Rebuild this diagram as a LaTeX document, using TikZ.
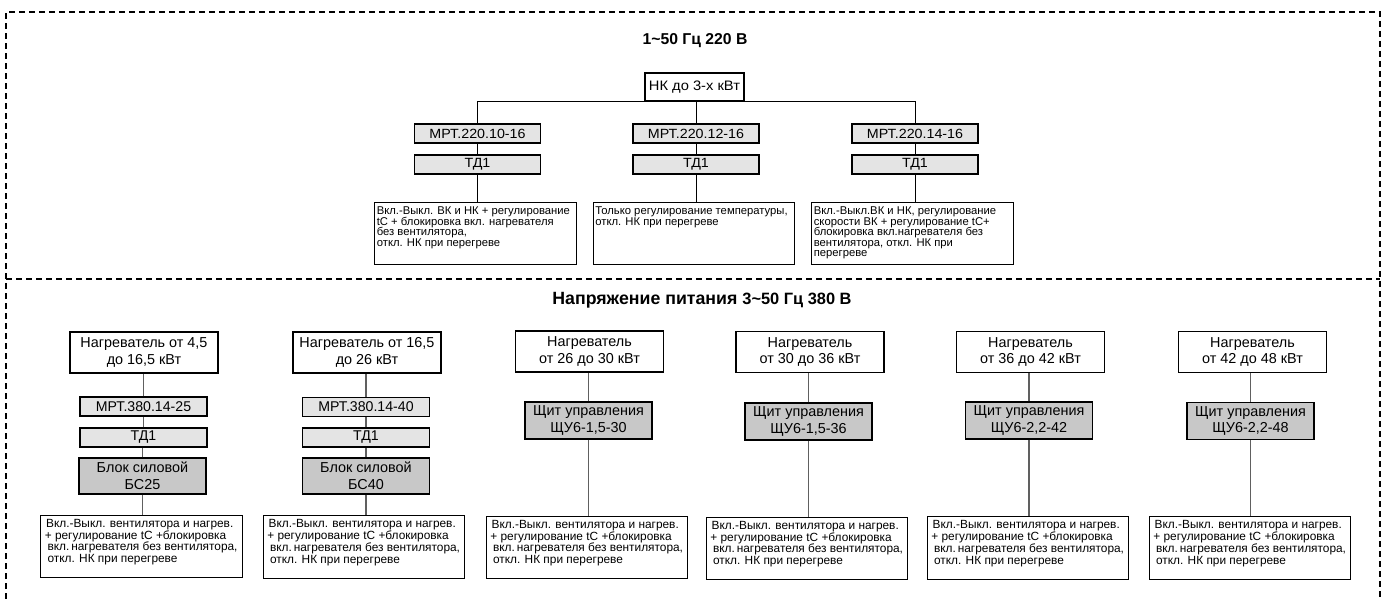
\documentclass[tikz,border=0pt]{standalone}
\usepackage{fontspec}
\setmainfont{Liberation Sans}
\newfontfamily\widefont{Liberation Sans}[FakeStretch=1.07]
\definecolor{lightbox}{HTML}{E4E4E4}
\definecolor{darkbox}{HTML}{C8C8C8}
\definecolor{linegray}{HTML}{606060}
\tikzset{
  frame/.style={line width=1.2pt, dash pattern=on 4.5pt off 3pt},
  bx/.style={draw=black, line width=0.8pt, inner sep=0pt, align=center},
  rootbox/.style={bx, fill=white, minimum width=74.25pt, minimum height=21pt, font=\widefont\fontsize{10.3}{12}\selectfont},
  topmpt/.style={bx, fill=lightbox, minimum width=94.5pt, minimum height=14.25pt, font=\widefont\fontsize{10}{12}\selectfont},
  topdesc/.style={bx, fill=white, inner sep=1.5pt, font=\fontsize{8.45}{8.1}\selectfont},
  heater/.style={bx, fill=white, minimum width=111pt, minimum height=30.75pt, font=\fontsize{10.8}{12.5}\selectfont},
  botmpt/.style={bx, fill=lightbox, minimum width=95.25pt, minimum height=14.25pt, font=\fontsize{10.6}{12}\selectfont},
  block/.style={bx, fill=darkbox, minimum width=95.25pt, minimum height=27pt, font=\fontsize{10.8}{12.5}\selectfont},
  shield/.style={bx, fill=darkbox, minimum width=95.25pt, minimum height=27.75pt, font=\fontsize{10.8}{12.5}\selectfont},
  botdesc/.style={bx, fill=white, inner sep=1.5pt, font=\fontsize{8.9}{8.8}\selectfont},
  title/.style={inner sep=0pt},
  conn/.style={draw=black, line width=0.7pt},
  bconn/.style={draw=linegray, line width=0.8pt}
}
\newcommand{\topdtext}[1]{\parbox[c][44pt][t]{148pt}{\raggedright\vspace*{1.8pt}#1}}
\newcommand{\botdtext}[1]{\parbox[c][44pt][t]{148pt}{\raggedright\vspace{1.5pt}\hspace*{2.5pt}#1}}
\newcommand{\stdtext}{\botdtext{\mbox{Вкл.-Выкл. вентилятора и нагрев.}\\\hspace*{1.5pt}\mbox{+ регулирование tC +блокировка}\\\hspace*{3.5pt}\mbox{вкл.\,нагревателя без вентилятора,}\\\hspace*{3.5pt}\mbox{откл. НК при перегреве}}}
\begin{document}
\begin{tikzpicture}[x=0.75pt,y=-0.75pt]
\useasboundingbox (0,0) rectangle (1389,599);
\fill[white] (0,0) rectangle (1389,599);
% frame
\draw[frame] (6,599) -- (6,12) -- (1380,12) -- (1380,599);
\draw[frame] (6,279) -- (1380,279);

% ---- top section ----
\node[title] (ttop) at (695,41) {\bfseries\fontsize{11.8}{14}\selectfont 1\textasciitilde50 Гц 220 В};
\node[rootbox] (root) at (694.5,87) {НК до 3-х кВт};

\node[topmpt] (m1) at (477.5,133.5) {МРТ.220.10-16};
\node[topmpt] (t1) at (477.5,164.5) {ТД1};
\node[topdesc] (d1) at (475.5,233.5) {\topdtext{\mbox{Вкл.-Выкл. ВК и НК + регулирование}\\\mbox{tC + блокировка вкл. нагревателя}\\\mbox{без вентилятора,}\\\mbox{откл. НК при перегреве}}};

\node[topmpt] (m2) at (696,133.5) {МРТ.220.12-16};
\node[topmpt] (t2) at (696,164.5) {ТД1};
\node[topdesc] (d2) at (694,233.5) {\topdtext{\mbox{Только регулирование температуры,}\\\mbox{откл. НК при перегреве}}};

\node[topmpt] (m3) at (915,133.5) {МРТ.220.14-16};
\node[topmpt] (t3) at (915,164.5) {ТД1};
\node[topdesc] (d3) at (912.5,233.5) {\topdtext{\mbox{Вкл.-Выкл.ВК и НК, регулирование}\\\mbox{скорости ВК + регулирование tC+}\\\mbox{блокировка вкл.нагревателя без}\\\mbox{вентилятора, откл. НК при}\\[-0.6pt]\mbox{перегреве}}};

\draw[conn] (m1.north) -- (m1.north |- root.south) -- (m3.north |- root.south) -- (m3.north);
\draw[conn] (m2.north) -- (m2.north |- root.south);
\foreach \i in {1,2,3}{
  \draw[conn] (m\i.south) -- (t\i.north);
  \draw[conn] (t\i.south) -- (t\i.south |- d\i.north);
}

% ---- bottom section ----
\node[title] (tbot) at (702,300) {\bfseries{\fontsize{13.3}{15}\selectfont Напряжение питания }{\fontsize{12.3}{15}\selectfont 3\textasciitilde50 Гц 380 В}};

% column 1
\node[heater] (h1) at (144,352.5) {Нагреватель от 4,5\\до 16,5 кВт};
\node[botmpt] (p1) at (143.5,406.5) {МРТ.380.14-25};
\node[botmpt] (q1) at (143.5,437.5) {ТД1};
\node[block] (b1) at (142.5,476) {Блок силовой\\БС25};
\node[botdesc] (e1) at (141.5,546.5) {\stdtext};
% column 2
\node[heater] (h2) at (367,352.5) {Нагреватель от 16,5\\до 26 кВт};
\node[botmpt] (p2) at (366,407) {МРТ.380.14-40};
\node[botmpt] (q2) at (366,437.5) {ТД1};
\node[block] (b2) at (366,476) {Блок силовой\\БС40};
\node[botdesc] (e2) at (364,547) {\stdtext};
\foreach \i in {1,2}{
  \draw[bconn] (p\i.north) -- (p\i.north |- h\i.south);
  \draw[bconn] (q\i.north) -- (q\i.north |- p\i.south);
  \draw[bconn] (b\i.north) -- (b\i.north |- q\i.south);
  \draw[bconn] (b\i.south) -- (b\i.south |- e\i.north);
}
% columns 3-6
\node[heater] (h3) at (589.5,351.5) {Нагреватель\\от 26 до 30 кВт};
\node[shield] (s3) at (588.5,420.5) {Щит управления\\ЩУ6-1,5-30};
\node[botdesc] (e3) at (587,547.5) {\stdtext};

\node[heater] (h4) at (810,352) {Нагреватель\\от 30 до 36 кВт};
\node[shield] (s4) at (808.5,421.5) {Щит управления\\ЩУ6-1,5-36};
\node[botdesc] (e4) at (807,548.5) {\stdtext};

\node[heater] (h5) at (1030.5,352) {Нагреватель\\от 36 до 42 кВт};
\node[shield] (s5) at (1029,420.5) {Щит управления\\ЩУ6-2,2-42};
\node[botdesc] (e5) at (1028,548) {\stdtext};

\node[heater] (h6) at (1252.5,352) {Нагреватель\\от 42 до 48 кВт};
\node[shield] (s6) at (1250.5,421) {Щит управления\\ЩУ6-2,2-48};
\node[botdesc] (e6) at (1250,548) {\stdtext};
\foreach \i in {3,4,5,6}{
  \draw[bconn] (s\i.north) -- (s\i.north |- h\i.south);
  \draw[bconn] (s\i.south) -- (s\i.south |- e\i.north);
}
\end{tikzpicture}
\end{document}
